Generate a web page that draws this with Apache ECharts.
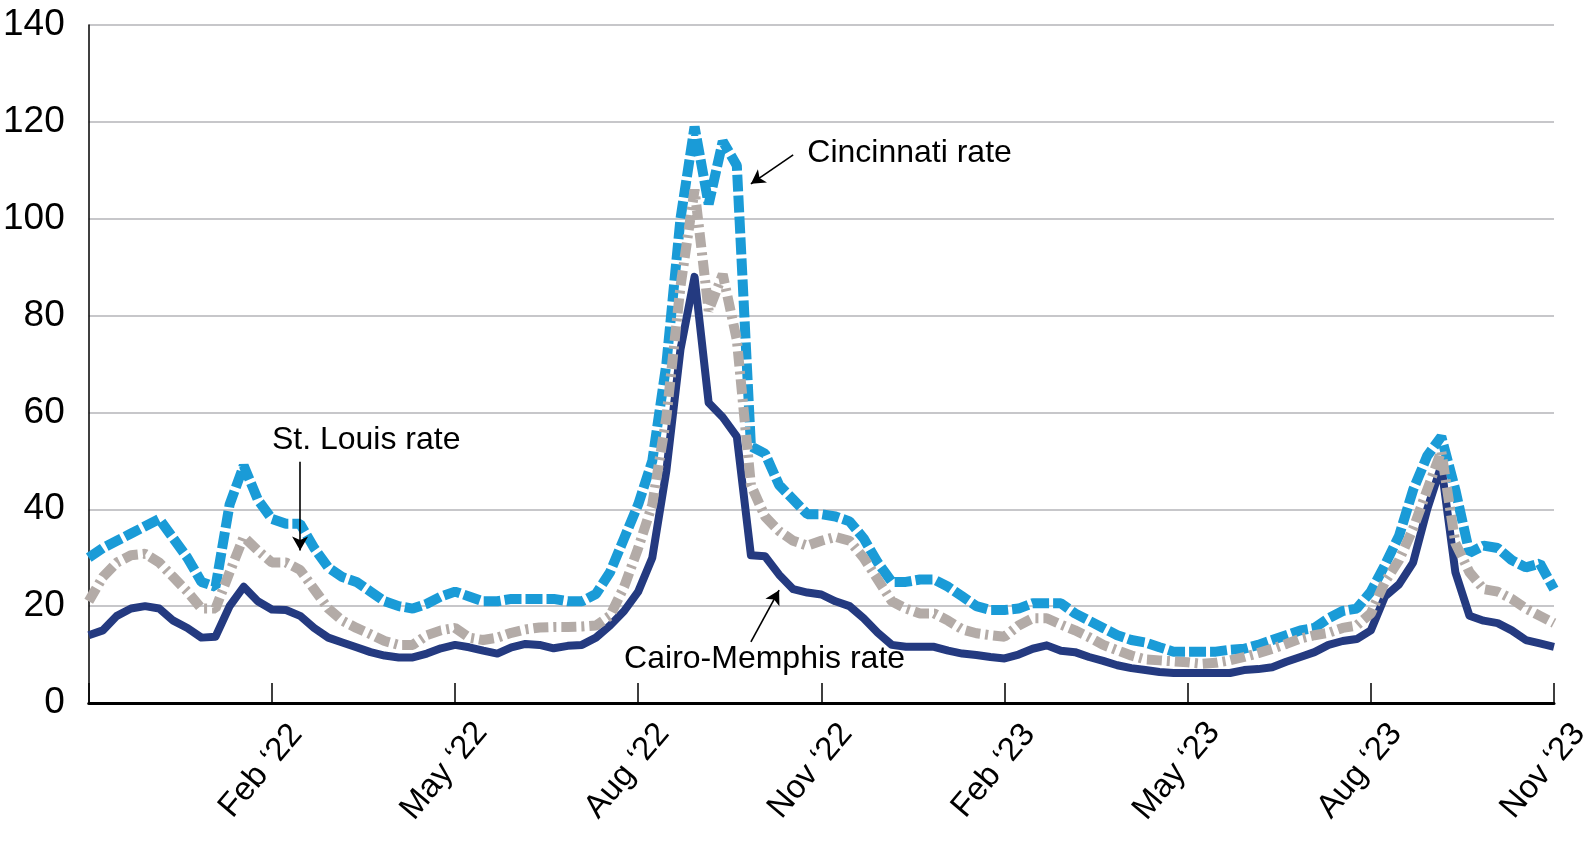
<!DOCTYPE html>
<html>
<head>
<meta charset="utf-8">
<script src="https://cdn.jsdelivr.net/npm/echarts@6/dist/echarts.min.js"></script>
<style>
html,body{margin:0;padding:0;background:#fff;}
#chart{width:1595px;height:847px;}
</style>
</head>
<body>
<div id="chart"></div>
<script>
// Weekly observations, Nov 2021 – Nov 2023 (105 weeks)
const tickLabels = ["Feb \u201822","May \u201822","Aug \u201822","Nov \u201822","Feb \u201823","May \u201823","Aug \u201823","Nov \u201823"];

const cincinnati = [
30,32,33.5,35,36.5,38,34,30,25,24,
41,49,42,38,37,37,32,28,26,25,
23,21,20,19.5,20.5,22,23,22,21,21,
21.5,21.5,21.5,21.5,21,21,22.5,27,34,41,
50,70,100,119,103,116,111,53,51.5,45,
42,39,39,38.5,37.5,34,29,25,25,25.5,
25.5,24,22,20,19.2,19.2,19.5,20.6,20.6,20.6,
18.5,17,15.5,14,13,12.5,11.5,10.6,10.6,10.6,
10.6,11,11.2,12,13,14,15,15.5,17.5,19,
19.5,23,28.5,34.5,44,51,55,44,31,32.5,
32,29.5,28,28.8,23.5
];

const cairoMemphis = [
14,15,18,19.5,20,19.5,17,15.5,13.5,13.7,
20,24,21,19.3,19.2,18,15.5,13.5,12.5,11.5,
10.5,9.8,9.4,9.4,10.2,11.3,12,11.5,10.8,10.2,
11.5,12.2,12,11.3,11.8,12,13.5,16,19,23,
30,48,73,88,62,59,55,30.5,30.3,26.5,
23.5,22.8,22.4,21,20,17.5,14.5,12,11.6,11.6,
11.6,10.8,10.2,9.9,9.5,9.2,10,11.2,11.9,10.8,
10.5,9.5,8.7,7.8,7.2,6.8,6.4,6.2,6.2,6.2,
6.2,6.2,6.8,7,7.4,8.5,9.5,10.5,12,12.8,
13.2,15,22,24.5,29,40,49,27,18,17,
16.5,15,13,12.3,11.6
];

const stLouis = [
21,26,29,30.5,30.8,29,26,23,19.5,19.5,
27,34.3,31.5,29,29,27.5,23.5,19.5,17,15.5,
14.2,12.8,12,12,14,15,15.5,13.5,13,13.5,
14.5,15.2,15.6,15.7,15.7,15.8,16,18,24,32,
41,59,86,106,81,88.5,75,45,38.5,35.5,
33.5,32.5,33.5,34.3,33.5,30,25.5,21,19.5,18.5,
18.5,17,15.2,14.4,14,13.7,16,17.5,17.5,16.2,
15,13.6,12,10.9,9.8,9,8.8,8.6,8.4,8.1,
8.3,8.8,9.5,10.3,11.2,12.2,13.3,14,14.5,15.5,
16,18.5,25,29.5,36,44,52,33,27,23.5,
23,21.5,19.5,18,16.5
];

// category per week (start date of week)
const categories = [];
{
  const d0 = new Date(Date.UTC(2021, 10, 1));
  for (let i = 0; i < cincinnati.length; i++) {
    const d = new Date(d0.getTime() + i * 7 * 86400000);
    categories.push(d.toISOString().slice(0, 10));
  }
}

const FONT = "'Liberation Sans Narrow','Arial Narrow','Liberation Sans',Arial,sans-serif";
const BLUE = '#1a9bd7', NAVY = '#243a80', GRAY = '#b3aba7';

const arrowLine = (a, b) => [
  { coord: a, symbol: 'none' },
  { coord: b, symbol: 'arrow' }
];
const textPoint = (name, coord) => ({
  name: name, coord: coord, value: name,
  symbol: 'circle', symbolSize: 0,
  label: { show: true, position: 'right', distance: 0, formatter: name,
           color: '#000', fontFamily: FONT, fontSize: 32 }
});
const arrowStyle = {
  silent: true, animation: false,
  symbolSize: [12, 14],
  lineStyle: { color: '#000', width: 1.6, type: 'solid' },
  label: { show: false },
  emphasis: { disabled: true }
};

const chart = echarts.init(document.getElementById('chart'), null, { renderer: 'canvas' });
chart.setOption({
  animation: false,
  backgroundColor: '#fff',
  grid: { left: 80, right: 41, top: 25, bottom: 144, containLabel: false },
  xAxis: {
    type: 'category',
    data: categories,
    boundaryGap: false,
    axisLine: { show: true, lineStyle: { color: '#000', width: 3 } },
    axisTick: {
      show: true, inside: true, length: 20,
      interval: (idx) => idx % 13 === 0,
      lineStyle: { color: '#000', width: 1.5 }
    },
    axisLabel: {
      show: true,
      interval: (idx) => idx % 13 === 0 && idx > 0,
      formatter: (val, idx) => tickLabels[idx / 13 - 1] || '',
      rotate: 50, margin: 55,
      align: 'center', verticalAlign: 'middle',
      padding: [0, 34, 0, 0],
      color: '#000', fontFamily: FONT, fontSize: 33
    },
    splitLine: { show: false }
  },
  yAxis: {
    type: 'value',
    min: 0, max: 140, interval: 20,
    axisLine: { show: true, lineStyle: { color: '#000', width: 1.5 } },
    axisTick: { show: false },
    axisLabel: { color: '#000', fontFamily: FONT, fontSize: 37, margin: 24 },
    splitLine: { show: true, lineStyle: { color: '#b4b4b8', width: 1.5 } }
  },
  series: [
    {
      name: 'Cincinnati rate', type: 'line', data: cincinnati,
      showSymbol: false, symbol: 'none', smooth: false,
      lineStyle: { color: BLUE, width: 10, type: [17, 4], cap: 'butt', join: 'bevel' },
      z: 2,
      markPoint: { silent: true, animation: false, data: [ textPoint('Cincinnati rate', [50.6, 113.6]) ] },
      markLine: Object.assign({ data: [ arrowLine([50.0, 113.2], [46.9, 107.2]) ] }, arrowStyle)
    },
    {
      name: 'Cairo-Memphis rate', type: 'line', data: cairoMemphis,
      showSymbol: false, symbol: 'none', smooth: false,
      lineStyle: { color: NAVY, width: 8, type: 'solid', join: 'round' },
      z: 3,
      markPoint: { silent: true, animation: false, data: [ textPoint('Cairo-Memphis rate', [37.6, 9.0]) ] },
      markLine: Object.assign({ data: [ arrowLine([46.8, 12.6], [48.8, 23.3]) ] }, arrowStyle)
    },
    {
      name: 'St. Louis rate', type: 'line', data: stLouis,
      showSymbol: false, symbol: 'none', smooth: false,
      lineStyle: { color: GRAY, width: 10, type: [15, 5, 3, 5], cap: 'butt', join: 'bevel' },
      z: 4,
      markPoint: { silent: true, animation: false, data: [ textPoint('St. Louis rate', [12.95, 54.3]) ] },
      markLine: Object.assign({ data: [ arrowLine([14.55, 49.8], [14.55, 31.5]) ] }, arrowStyle)
    }
  ]
});
</script>
</body>
</html>
